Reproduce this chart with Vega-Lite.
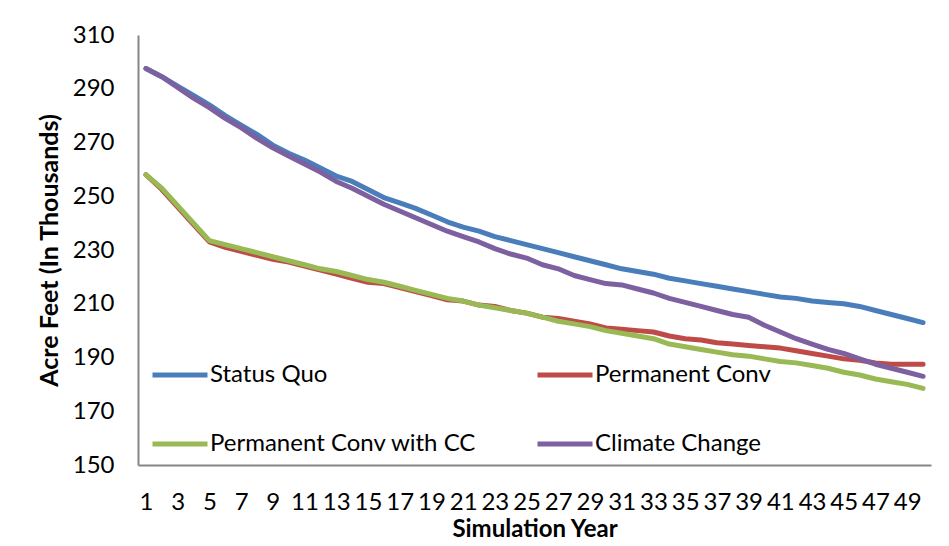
{
  "$schema": "https://vega.github.io/schema/vega-lite/v6.json",
  "width": 793,
  "height": 430,
  "autosize": "none",
  "padding": {"left": 138, "top": 35, "right": 18, "bottom": 81},
  "background": "white",
  "config": {
    "view": {"stroke": null},
    "font": "Lato",
    "axis": {"labelFont": "Lato", "titleFont": "Lato", "labelColor": "black", "titleColor": "black"}
  },
  "data": {
    "values": [
      {"year":1,"series":"Permanent Conv","value":258},
      {"year":2,"series":"Permanent Conv","value":252.5},
      {"year":3,"series":"Permanent Conv","value":246},
      {"year":4,"series":"Permanent Conv","value":239.5},
      {"year":5,"series":"Permanent Conv","value":233},
      {"year":6,"series":"Permanent Conv","value":231},
      {"year":7,"series":"Permanent Conv","value":229.5},
      {"year":8,"series":"Permanent Conv","value":228},
      {"year":9,"series":"Permanent Conv","value":226.5},
      {"year":10,"series":"Permanent Conv","value":225.5},
      {"year":11,"series":"Permanent Conv","value":224},
      {"year":12,"series":"Permanent Conv","value":222.5},
      {"year":13,"series":"Permanent Conv","value":221},
      {"year":14,"series":"Permanent Conv","value":219.5},
      {"year":15,"series":"Permanent Conv","value":218},
      {"year":16,"series":"Permanent Conv","value":217.5},
      {"year":17,"series":"Permanent Conv","value":216},
      {"year":18,"series":"Permanent Conv","value":214.5},
      {"year":19,"series":"Permanent Conv","value":213},
      {"year":20,"series":"Permanent Conv","value":211.5},
      {"year":21,"series":"Permanent Conv","value":211},
      {"year":22,"series":"Permanent Conv","value":209.5},
      {"year":23,"series":"Permanent Conv","value":209},
      {"year":24,"series":"Permanent Conv","value":207.5},
      {"year":25,"series":"Permanent Conv","value":206.5},
      {"year":26,"series":"Permanent Conv","value":205},
      {"year":27,"series":"Permanent Conv","value":204.5},
      {"year":28,"series":"Permanent Conv","value":203.5},
      {"year":29,"series":"Permanent Conv","value":202.5},
      {"year":30,"series":"Permanent Conv","value":201},
      {"year":31,"series":"Permanent Conv","value":200.5},
      {"year":32,"series":"Permanent Conv","value":200},
      {"year":33,"series":"Permanent Conv","value":199.5},
      {"year":34,"series":"Permanent Conv","value":198},
      {"year":35,"series":"Permanent Conv","value":197},
      {"year":36,"series":"Permanent Conv","value":196.5},
      {"year":37,"series":"Permanent Conv","value":195.5},
      {"year":38,"series":"Permanent Conv","value":195},
      {"year":39,"series":"Permanent Conv","value":194.5},
      {"year":40,"series":"Permanent Conv","value":194},
      {"year":41,"series":"Permanent Conv","value":193.5},
      {"year":42,"series":"Permanent Conv","value":192.5},
      {"year":43,"series":"Permanent Conv","value":191.5},
      {"year":44,"series":"Permanent Conv","value":190.5},
      {"year":45,"series":"Permanent Conv","value":189.5},
      {"year":46,"series":"Permanent Conv","value":189},
      {"year":47,"series":"Permanent Conv","value":188},
      {"year":48,"series":"Permanent Conv","value":187.5},
      {"year":49,"series":"Permanent Conv","value":187.5},
      {"year":50,"series":"Permanent Conv","value":187.5},
      {"year":1,"series":"Permanent Conv with CC","value":258},
      {"year":2,"series":"Permanent Conv with CC","value":253},
      {"year":3,"series":"Permanent Conv with CC","value":246.5},
      {"year":4,"series":"Permanent Conv with CC","value":240},
      {"year":5,"series":"Permanent Conv with CC","value":233.5},
      {"year":6,"series":"Permanent Conv with CC","value":232},
      {"year":7,"series":"Permanent Conv with CC","value":230.5},
      {"year":8,"series":"Permanent Conv with CC","value":229},
      {"year":9,"series":"Permanent Conv with CC","value":227.5},
      {"year":10,"series":"Permanent Conv with CC","value":226},
      {"year":11,"series":"Permanent Conv with CC","value":224.5},
      {"year":12,"series":"Permanent Conv with CC","value":223},
      {"year":13,"series":"Permanent Conv with CC","value":222},
      {"year":14,"series":"Permanent Conv with CC","value":220.5},
      {"year":15,"series":"Permanent Conv with CC","value":219},
      {"year":16,"series":"Permanent Conv with CC","value":218},
      {"year":17,"series":"Permanent Conv with CC","value":216.5},
      {"year":18,"series":"Permanent Conv with CC","value":215},
      {"year":19,"series":"Permanent Conv with CC","value":213.5},
      {"year":20,"series":"Permanent Conv with CC","value":212},
      {"year":21,"series":"Permanent Conv with CC","value":211},
      {"year":22,"series":"Permanent Conv with CC","value":209.5},
      {"year":23,"series":"Permanent Conv with CC","value":208.5},
      {"year":24,"series":"Permanent Conv with CC","value":207.5},
      {"year":25,"series":"Permanent Conv with CC","value":206.5},
      {"year":26,"series":"Permanent Conv with CC","value":205},
      {"year":27,"series":"Permanent Conv with CC","value":203.5},
      {"year":28,"series":"Permanent Conv with CC","value":202.5},
      {"year":29,"series":"Permanent Conv with CC","value":201.5},
      {"year":30,"series":"Permanent Conv with CC","value":200},
      {"year":31,"series":"Permanent Conv with CC","value":199},
      {"year":32,"series":"Permanent Conv with CC","value":198},
      {"year":33,"series":"Permanent Conv with CC","value":197},
      {"year":34,"series":"Permanent Conv with CC","value":195},
      {"year":35,"series":"Permanent Conv with CC","value":194},
      {"year":36,"series":"Permanent Conv with CC","value":193},
      {"year":37,"series":"Permanent Conv with CC","value":192},
      {"year":38,"series":"Permanent Conv with CC","value":191},
      {"year":39,"series":"Permanent Conv with CC","value":190.5},
      {"year":40,"series":"Permanent Conv with CC","value":189.5},
      {"year":41,"series":"Permanent Conv with CC","value":188.5},
      {"year":42,"series":"Permanent Conv with CC","value":188},
      {"year":43,"series":"Permanent Conv with CC","value":187},
      {"year":44,"series":"Permanent Conv with CC","value":186},
      {"year":45,"series":"Permanent Conv with CC","value":184.5},
      {"year":46,"series":"Permanent Conv with CC","value":183.5},
      {"year":47,"series":"Permanent Conv with CC","value":182},
      {"year":48,"series":"Permanent Conv with CC","value":181},
      {"year":49,"series":"Permanent Conv with CC","value":180},
      {"year":50,"series":"Permanent Conv with CC","value":178.5},
      {"year":1,"series":"Status Quo","value":297.5},
      {"year":2,"series":"Status Quo","value":294.5},
      {"year":3,"series":"Status Quo","value":291},
      {"year":4,"series":"Status Quo","value":287.5},
      {"year":5,"series":"Status Quo","value":284},
      {"year":6,"series":"Status Quo","value":280},
      {"year":7,"series":"Status Quo","value":276.5},
      {"year":8,"series":"Status Quo","value":273},
      {"year":9,"series":"Status Quo","value":269},
      {"year":10,"series":"Status Quo","value":266},
      {"year":11,"series":"Status Quo","value":263.5},
      {"year":12,"series":"Status Quo","value":260.5},
      {"year":13,"series":"Status Quo","value":257.5},
      {"year":14,"series":"Status Quo","value":255.5},
      {"year":15,"series":"Status Quo","value":252.5},
      {"year":16,"series":"Status Quo","value":249.5},
      {"year":17,"series":"Status Quo","value":247.5},
      {"year":18,"series":"Status Quo","value":245.5},
      {"year":19,"series":"Status Quo","value":243},
      {"year":20,"series":"Status Quo","value":240.5},
      {"year":21,"series":"Status Quo","value":238.5},
      {"year":22,"series":"Status Quo","value":237},
      {"year":23,"series":"Status Quo","value":235},
      {"year":24,"series":"Status Quo","value":233.5},
      {"year":25,"series":"Status Quo","value":232},
      {"year":26,"series":"Status Quo","value":230.5},
      {"year":27,"series":"Status Quo","value":229},
      {"year":28,"series":"Status Quo","value":227.5},
      {"year":29,"series":"Status Quo","value":226},
      {"year":30,"series":"Status Quo","value":224.5},
      {"year":31,"series":"Status Quo","value":223},
      {"year":32,"series":"Status Quo","value":222},
      {"year":33,"series":"Status Quo","value":221},
      {"year":34,"series":"Status Quo","value":219.5},
      {"year":35,"series":"Status Quo","value":218.5},
      {"year":36,"series":"Status Quo","value":217.5},
      {"year":37,"series":"Status Quo","value":216.5},
      {"year":38,"series":"Status Quo","value":215.5},
      {"year":39,"series":"Status Quo","value":214.5},
      {"year":40,"series":"Status Quo","value":213.5},
      {"year":41,"series":"Status Quo","value":212.5},
      {"year":42,"series":"Status Quo","value":212},
      {"year":43,"series":"Status Quo","value":211},
      {"year":44,"series":"Status Quo","value":210.5},
      {"year":45,"series":"Status Quo","value":210},
      {"year":46,"series":"Status Quo","value":209},
      {"year":47,"series":"Status Quo","value":207.5},
      {"year":48,"series":"Status Quo","value":206},
      {"year":49,"series":"Status Quo","value":204.5},
      {"year":50,"series":"Status Quo","value":203},
      {"year":1,"series":"Climate Change","value":297.5},
      {"year":2,"series":"Climate Change","value":294.5},
      {"year":3,"series":"Climate Change","value":290.5},
      {"year":4,"series":"Climate Change","value":286.5},
      {"year":5,"series":"Climate Change","value":283},
      {"year":6,"series":"Climate Change","value":279},
      {"year":7,"series":"Climate Change","value":275.5},
      {"year":8,"series":"Climate Change","value":271.5},
      {"year":9,"series":"Climate Change","value":268},
      {"year":10,"series":"Climate Change","value":265},
      {"year":11,"series":"Climate Change","value":262},
      {"year":12,"series":"Climate Change","value":259},
      {"year":13,"series":"Climate Change","value":255.5},
      {"year":14,"series":"Climate Change","value":253},
      {"year":15,"series":"Climate Change","value":250},
      {"year":16,"series":"Climate Change","value":247},
      {"year":17,"series":"Climate Change","value":244.5},
      {"year":18,"series":"Climate Change","value":242},
      {"year":19,"series":"Climate Change","value":239.5},
      {"year":20,"series":"Climate Change","value":237},
      {"year":21,"series":"Climate Change","value":235},
      {"year":22,"series":"Climate Change","value":233},
      {"year":23,"series":"Climate Change","value":230.5},
      {"year":24,"series":"Climate Change","value":228.5},
      {"year":25,"series":"Climate Change","value":227},
      {"year":26,"series":"Climate Change","value":224.5},
      {"year":27,"series":"Climate Change","value":223},
      {"year":28,"series":"Climate Change","value":220.5},
      {"year":29,"series":"Climate Change","value":219},
      {"year":30,"series":"Climate Change","value":217.5},
      {"year":31,"series":"Climate Change","value":217},
      {"year":32,"series":"Climate Change","value":215.5},
      {"year":33,"series":"Climate Change","value":214},
      {"year":34,"series":"Climate Change","value":212},
      {"year":35,"series":"Climate Change","value":210.5},
      {"year":36,"series":"Climate Change","value":209},
      {"year":37,"series":"Climate Change","value":207.5},
      {"year":38,"series":"Climate Change","value":206},
      {"year":39,"series":"Climate Change","value":205},
      {"year":40,"series":"Climate Change","value":202},
      {"year":41,"series":"Climate Change","value":199.5},
      {"year":42,"series":"Climate Change","value":197},
      {"year":43,"series":"Climate Change","value":195},
      {"year":44,"series":"Climate Change","value":193},
      {"year":45,"series":"Climate Change","value":191.5},
      {"year":46,"series":"Climate Change","value":189.5},
      {"year":47,"series":"Climate Change","value":187.5},
      {"year":48,"series":"Climate Change","value":186},
      {"year":49,"series":"Climate Change","value":184.5},
      {"year":50,"series":"Climate Change","value":183}
    ]
  },
  "mark": {"type": "line", "strokeWidth": 5, "strokeCap": "round", "strokeJoin": "round"},
  "encoding": {
    "x": {
      "field": "year",
      "type": "ordinal",
      "scale": {"type": "point", "padding": 0.5},
      "axis": {
        "title": "Simulation Year",
        "titleFontSize": 24,
        "titleFontWeight": "bold",
        "titlePadding": 3,
        "labelFontSize": 24,
        "labelAngle": 0,
        "labelOverlap": false,
        "labelFlush": false,
        "labelPadding": 25,
        "ticks": false,
        "grid": false,
        "domainColor": "#868686",
        "domainWidth": 2,
        "values": [1,3,5,7,9,11,13,15,17,19,21,23,25,27,29,31,33,35,37,39,41,43,45,47,49]
      }
    },
    "y": {
      "field": "value",
      "type": "quantitative",
      "scale": {"domain": [150, 310], "nice": false, "zero": false},
      "axis": {
        "title": "Acre Feet (In Thousands)",
        "titleFontSize": 25,
        "titleFontWeight": "bold",
        "titlePadding": 10,
        "labelFontSize": 24,
        "labelPadding": 24,
        "ticks": false,
        "grid": false,
        "domainColor": "#868686",
        "domainWidth": 2,
        "values": [150,170,190,210,230,250,270,290,310]
      }
    },
    "color": {
      "field": "series",
      "type": "nominal",
      "sort": null,
      "scale": {
        "domain": ["Status Quo", "Permanent Conv with CC", "Permanent Conv", "Climate Change"],
        "range": ["#4A7EBB", "#98B954", "#BE4B48", "#7D60A0"]
      },
      "legend": {
        "title": null,
        "orient": "none",
        "legendX": 12,
        "legendY": 310,
        "columns": 2,
        "columnPadding": 50,
        "rowPadding": 27,
        "symbolType": "stroke",
        "symbolSize": 3025,
        "symbolStrokeWidth": 5,
        "labelFont": "Lato",
        "labelFontSize": 24,
        "labelColor": "black",
        "labelOffset": 0,
        "labelLimit": 400
      }
    }
  }
}
